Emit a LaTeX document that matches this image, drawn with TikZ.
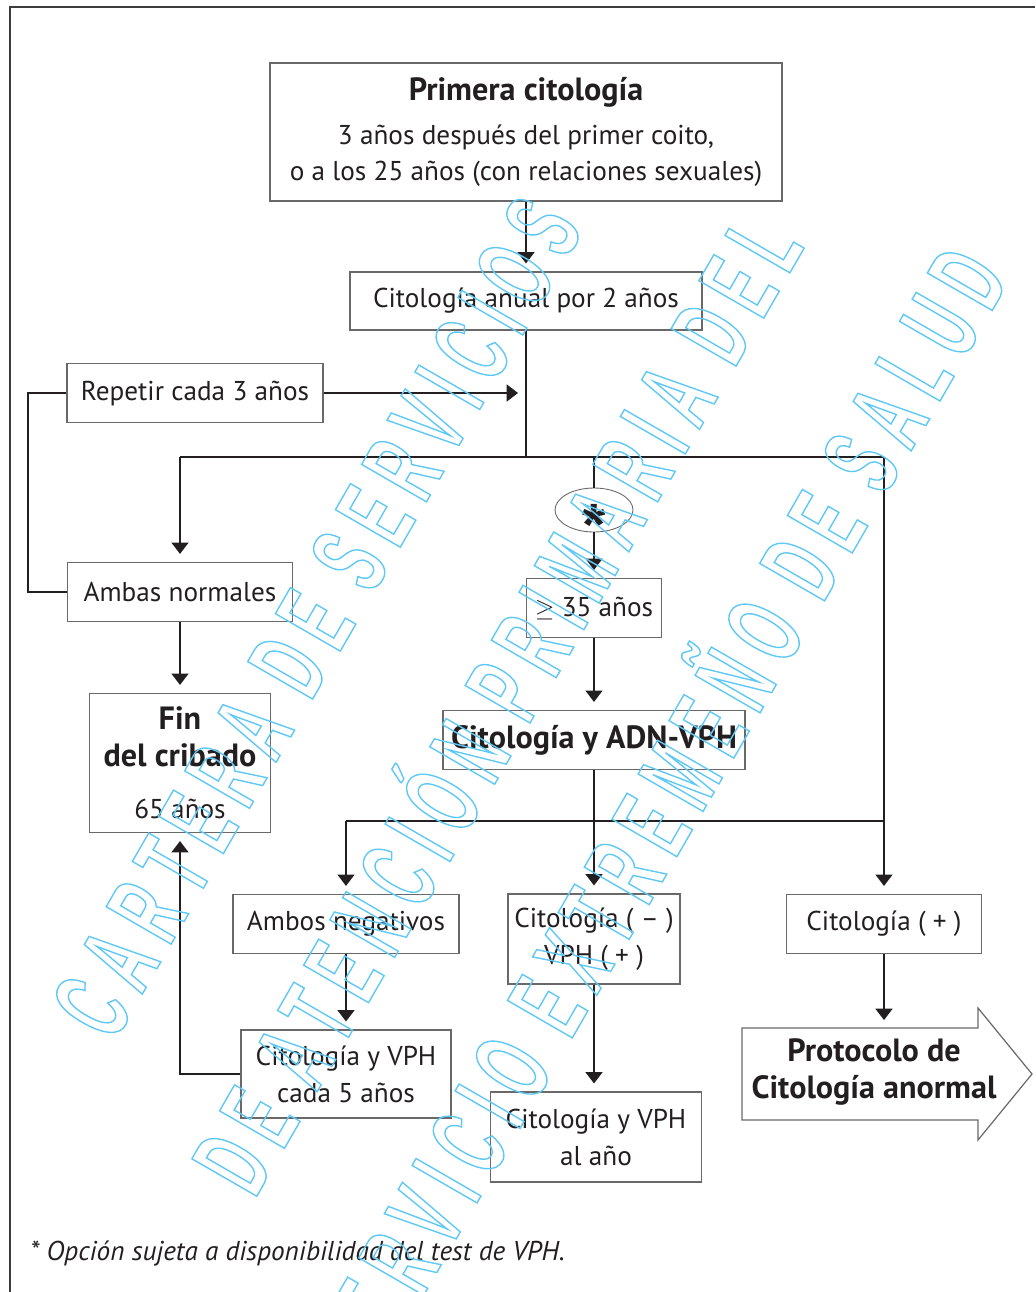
\documentclass[tikz,border=0pt]{standalone}
\usepackage{fontspec}
\setmainfont{PT Sans}
\newfontfamily\wmfont{Liberation Sans}[FakeStretch=0.51,LetterSpace=14]
\newfontfamily\starfont{Liberation Sans}
\usepackage{tikz}
\usetikzlibrary{arrows.meta}
\usetikzlibrary{positioning}
\usetikzlibrary{shapes.geometric}
\definecolor{ink}{RGB}{35,31,32}
\definecolor{boxgray}{RGB}{105,105,105}
\definecolor{framegray}{RGB}{60,60,60}
\definecolor{wmcyan}{RGB}{95,200,245}
\newcommand\wmtext[1]{\special{pdf:literal direct 1 Tr 0.8 w}#1\special{pdf:literal direct 0 Tr}}
\newcommand\boxfont{\fontsize{15.5}{21}\selectfont}
\newcommand\headfont{\bfseries\fontsize{18.3}{21}\selectfont}

\begin{document}
\begin{tikzpicture}[x=0.02cm, y=-0.02cm,
  box/.style={draw=boxgray, line width=0.7pt, inner sep=0pt, align=center, text=ink, font=\boxfont},
  conn/.style={draw=ink, line width=1.4pt},
  arr/.style={conn, -{Triangle[width=9.5pt,length=6.5pt]}, shorten >=4.5pt},
  wm/.style={text=wmcyan, font=\wmfont\bfseries\fontsize{62}{62}\selectfont, rotate=60, anchor=base, inner sep=0pt}]
\useasboundingbox (0,0) rectangle (1035,1292);
% frame
\draw[framegray, line width=0.7pt] (10,1292) -- (10,7) -- (1035,7);

% boxes
\node[box, minimum width=10.24cm, minimum height=2.76cm] (first) at (526,132)
  {{\headfont Primera citología}\\[0.14cm] 3 años después del primer coito,\\ o a los 25 años (con relaciones sexuales)};
\node[box, minimum width=7.04cm, minimum height=1.16cm] (anual) at (526,301) {Citología anual por 2 años};
\node[box, minimum width=5.12cm, minimum height=1.18cm] (repetir) at (195,393) {Repetir cada 3 años};
\node[box, minimum width=4.5cm, minimum height=1.18cm] (ambas) at (180,592) {Ambas normales};
\node[box, minimum width=3.62cm, minimum height=2.78cm] (fin) at (180,763)
  {{\headfont Fin}\\ {\headfont del cribado}\\[0.3cm] 65 años};
\node[ellipse, draw=boxgray, line width=0.5pt, inner sep=0pt, minimum width=1.56cm, minimum height=0.88cm,
  text=ink, font=\starfont\bfseries\fontsize{34}{34}\selectfont] (star) at (594,510) {\raisebox{-0.6em}[0pt][0pt]{*}};
\node[box, minimum width=2.7cm, minimum height=1.18cm] (ge35) at (594,608) {$\geq$ 35 años};
\node[box, minimum width=6.04cm, minimum height=1.18cm, font=\headfont] (adn) at (594,740) {Citología y ADN-VPH};
\node[box, minimum width=4.52cm, minimum height=1.18cm] (negativos) at (346,924) {Ambos negativos};
\node[box, minimum width=4.2cm, minimum height=1.76cm] (cit5) at (346,1074) {Citología y VPH\\ cada 5 años};
\node[box, minimum width=3.44cm, minimum height=1.8cm] (citmp) at (594,939) {Citología ( -- )\\ VPH ( + )};
\node[box, minimum width=4.22cm, minimum height=1.8cm] (citano) at (596,1137) {Citología y VPH\\ al año};
\node[box, minimum width=3.9cm, minimum height=1.18cm] (citpos) at (884,924) {Citología ( + )};
\node[align=center, text=ink, inner sep=0pt, font=\headfont] (proto) at (874,1072)
  {Protocolo de\\ Citología anormal};
\draw[boxgray, line width=0.7pt] (742,1028) -- (978,1028) -- (978,1008) -- (1032,1074)
  -- (978,1140) -- (978,1120) -- (742,1120) -- cycle;
\node[anchor=west, text=ink, inner sep=0pt, font=\itshape\fontsize{15.5}{19}\selectfont] (nota) at (30,1254)
  {* Opción sujeta a disponibilidad del test de VPH.};

% connectors
\coordinate (busL) at (180,457);
\coordinate (busR) at (884,457);
\coordinate (busBL) at (346,821);
\coordinate (protoin) at (884,1028);
\draw[arr] (first.south) -- (anual.north);
\draw[conn] (busL) -- (busR);
\draw[conn] (anual.south) -- (anual.south |- busL);
\draw[arr] (repetir.east) -- (repetir.east -| anual.south);
\draw[conn] (ambas.west) -- ++(-39,0) |- (repetir.west);
\draw[arr] (busL) -- (ambas.north);
\draw[arr] (ambas.south) -- (fin.north);
\draw[conn] (star.north |- busL) -- (star.north);
\draw[arr] (star.south) -- (ge35.north);
\draw[arr] (ge35.south) -- (adn.north);
\draw[arr] (adn.south) -- (citmp.north);
\draw[conn] (busBL) -- (busBL -| citpos.north);
\draw[arr] (busR) -- (citpos.north);
\draw[arr] (busBL) -- (negativos.north);
\draw[arr] (negativos.south) -- (cit5.north);
\draw[arr] (cit5.west) -| (fin.south);
\draw[arr] (citmp.south) -- (citmp.south |- citano.north);
\draw[arr] (citpos.south) -- (protoin);

% watermark
\node[wm] (wmA) at (349,636) {\wmtext{CARTERA DE SERVICIOS}};
\node[wm] (wmB) at (530,723) {\wmtext{DE ATENCIÓN PRIMARIA DEL}};
\node[wm] (wmC) at (690,834) {\wmtext{SERVICIO EXTREMEÑO DE SALUD}};
\end{tikzpicture}
\end{document}
